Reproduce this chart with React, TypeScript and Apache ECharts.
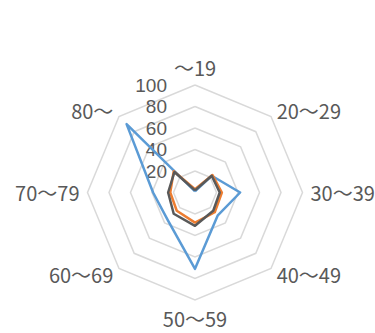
import React, { useEffect, useRef } from "react";
import * as echarts from "echarts";

const categories = ["～19", "20～29", "30～39", "40～49", "50～59", "60～69", "70～79", "80～"];
const seriesNames = ["系列1", "系列2", "系列3"];
const seriesBlue = [1, 22, 42, 30, 71, 36, 39, 90];
const seriesOrange = [3, 23, 25, 26, 28, 24, 23, 28];
const seriesDark = [2, 22, 23, 24, 31, 28, 25, 27];
const colors = ["#5B9BD5", "#ED7D31", "#595959"];
const maxValue = 100;

// ECharts places radar indicators counter-clockwise; reorder to get clockwise.
const clockwise = <T,>(arr: T[]): T[] => [arr[0], ...arr.slice(1).reverse()];

export default function App() {
  const ref = useRef<HTMLDivElement>(null);
  useEffect(() => {
    if (!ref.current) return;
    const chart = echarts.init(ref.current, null, { renderer: "svg" });
    const font = "'Noto Sans CJK JP', 'Noto Sans', sans-serif";
    const indicator = clockwise(categories).map((name, i) => ({
      name,
      max: maxValue,
      min: 0,
      ...(i === 0
        ? {
            axisLabel: {
              show: true,
              color: "#595959",
              fontSize: 19,
              lineHeight: 19,
              fontFamily: "'Liberation Sans', Arial, sans-serif",
              margin: 28,
              showMinLabel: false,
              formatter: (v: number) => (v === 0 ? "" : String(v)),
            },
          }
        : {}),
    }));
    const data = [seriesBlue, seriesOrange, seriesDark];
    chart.setOption({
      animation: false,
      radar: {
        center: [195, 192.5],
        radius: 107.5,
        shape: "polygon",
        splitNumber: 5,
        indicator,
        nameGap: 8,
        axisName: { color: "#595959", fontSize: 20, fontFamily: font },
        axisLine: { show: false },
        axisTick: { show: false },
        axisLabel: { show: false },
        splitArea: { show: false },
        splitLine: { lineStyle: { color: "#D9D9D9", width: 1.5 } },
      },
      series: [
        {
          type: "radar",
          symbol: "none",
          data: data.map((d, i) => ({
            name: seriesNames[i],
            value: clockwise(d),
            lineStyle: { color: colors[i], width: 2.5 },
            itemStyle: { color: colors[i] },
          })),
        },
      ],
    });
    return () => chart.dispose();
  }, []);
  return <div ref={ref} style={{ width: 375, height: 333, position: "absolute", left: 0, top: 0 }} />;
}
